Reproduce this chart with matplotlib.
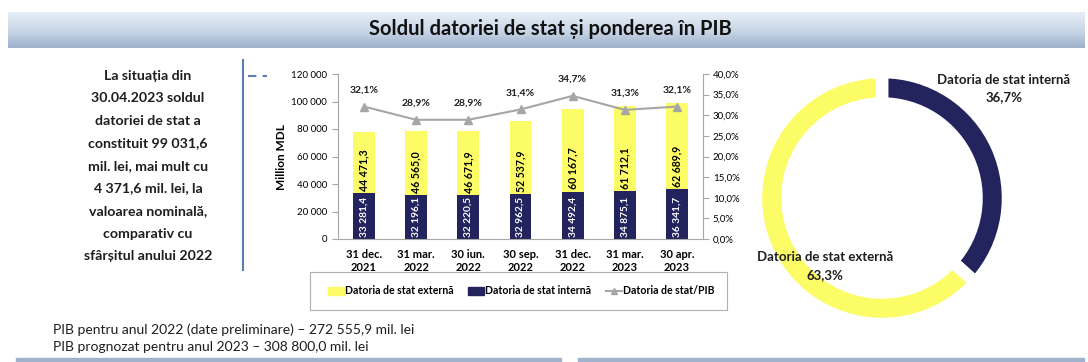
import numpy as np
import matplotlib.pyplot as plt
from matplotlib.patches import Rectangle, Patch
from matplotlib.lines import Line2D
from matplotlib.colors import LinearSegmentedColormap

plt.rcParams['font.family'] = ['Lato', 'DejaVu Sans']

# data
dates = ['31 dec.\n2021', '31 mar.\n2022', '30 iun.\n2022', '30 sep.\n2022',
         '31 dec.\n2022', '31 mar.\n2023', '30 apr.\n2023']
internal = [33281.4, 32196.1, 32220.5, 32962.5, 34492.4, 34875.1, 36341.7]
external = [44471.3, 46565.0, 46671.9, 52537.9, 60167.7, 61712.1, 62689.9]
debt_pib = [32.1, 28.9, 28.9, 31.4, 34.7, 31.3, 32.1]
share_labels = ['Datoria de stat internă', 'Datoria de stat externă']
share_values = [36.7, 63.3]

side_text = ['La situația din', '30.04.2023 soldul', 'datoriei de stat a',
             'constituit 99 031,6', 'mil. lei, mai mult cu', '4 371,6 mil. lei, la',
             'valoarea nominală,', 'comparativ cu', 'sfârșitul anului 2022']
foot_text = ['PIB pentru anul 2022 (date preliminare) – 272 555,9 mil. lei',
             'PIB prognozat pentru anul 2023 – 308 800,0 mil. lei']

YELLOW = '#fcfc66'
NAVY = '#23235e'
GRAY = '#a6a6a6'
TXT = '#1e1e1e'

W, H = 1088, 362
fig = plt.figure(figsize=(W / 100, H / 100), dpi=100)


def px(x, y):
    # pixel (top-left origin) -> figure fraction
    return x / W, 1 - y / H


def rect(x0, y0, x1, y1):
    return [x0 / W, 1 - y1 / H, (x1 - x0) / W, (y1 - y0) / H]


def fmt(v):
    return f'{v:,.1f}'.replace(',', ' ').replace('.', ',')


# title banner with gradient
bax = fig.add_axes(rect(8, 12, 1085, 48))
grad = np.linspace(0, 1, 100).reshape(-1, 1)
cm = LinearSegmentedColormap.from_list('b', ['#e6eef7', '#cbd8e8', '#9db1ca'])
bax.imshow(grad, aspect='auto', cmap=cm, extent=[0, 1, 0, 1], origin='upper')
bax.set_axis_off()
fig.text(*px(550, 29), 'Soldul datoriei de stat și ponderea în PIB',
         ha='center', va='center', fontsize=14.5, fontweight='bold', color='#111111')

# left paragraph
for i, line in enumerate(side_text):
    fig.text(*px(148, 76 + i * 22.5), line, ha='center', va='center',
             fontsize=10.2, fontweight='bold', color=TXT)

# vertical separator and dashes
fig.add_artist(Line2D([243 / W, 243 / W], [1 - 60 / H, 1 - 270 / H],
                      color='#5b7db1', lw=1.5))
fig.add_artist(Line2D([248 / W, 267 / W], [1 - 76 / H, 1 - 76 / H],
                      color='#5b7db1', lw=1.5, ls=(0, (4, 3))))

# bar chart
ax = fig.add_axes(rect(338, 74, 703, 239))
x = np.arange(len(dates))
bw = 0.42
ax.bar(x, internal, bw, color=NAVY, zorder=2)
ax.bar(x, external, bw, bottom=internal, color=YELLOW, zorder=2)
for i in range(len(x)):
    ax.annotate(fmt(internal[i]), (x[i], 0), xytext=(0, 1.5), textcoords='offset points',
                rotation=90, ha='center', va='bottom', fontsize=7.3,
                fontweight='bold', color='white')
    ax.annotate(fmt(external[i]), (x[i], internal[i]), xytext=(0, 1.5),
                textcoords='offset points', rotation=90, ha='center', va='bottom',
                fontsize=7.6, fontweight='bold', color='black')
ax.set_xlim(-0.5, len(x) - 0.5)
ax.set_ylim(0, 120000)
ax.set_yticks(np.arange(0, 120001, 20000))
ax.set_yticklabels([f'{v:,.0f}'.replace(',', ' ') for v in np.arange(0, 120001, 20000)])
ax.set_xticks(x)
ax.set_xticklabels(dates, fontsize=8, fontweight='bold', linespacing=1.25)
ax.tick_params(axis='x', length=0, pad=7)
ax.tick_params(axis='y', labelsize=7, length=4, color=GRAY, pad=4)
for s in ['top', 'right']:
    ax.spines[s].set_visible(False)
for s in ['left', 'bottom']:
    ax.spines[s].set_color(GRAY)
ax.set_ylabel('Million MDL', fontsize=8.5, fontweight='bold', labelpad=3)

ax2 = ax.twinx()
ax2.plot(x, debt_pib, color=GRAY, lw=1.5, marker='^', ms=6, zorder=3)
for i, v in enumerate(debt_pib):
    ax2.annotate(f'{v:.1f}%'.replace('.', ','), (x[i], v), xytext=(0, 12),
                 textcoords='offset points', ha='center', va='center',
                 fontsize=7.5, fontweight='bold', color=TXT)
ax2.set_ylim(0, 40)
ax2.set_yticks(np.arange(0, 41, 5))
ax2.set_yticklabels([f'{v:.1f}%'.replace('.', ',') for v in np.arange(0, 41, 5)])
ax2.tick_params(axis='y', labelsize=7, length=4, color=GRAY, pad=3)
for s in ['top', 'left', 'bottom']:
    ax2.spines[s].set_visible(False)
ax2.spines['right'].set_color(GRAY)

# legend box
fig.add_artist(Rectangle(px(310, 310), 417 / W, 38 / H, facecolor='white',
                         edgecolor='#b0b0b0', lw=0.8, transform=fig.transFigure))
handles = [Patch(color=YELLOW), Patch(color=NAVY),
           Line2D([], [], color=GRAY, marker='^', ms=5, lw=1.5)]
leg = fig.legend(handles, ['Datoria de stat externă', 'Datoria de stat internă',
                           'Datoria de stat/PIB'],
                 loc='center', bbox_to_anchor=px(521, 291), ncol=3,
                 fontsize=7.6, frameon=False, handlelength=1.5, handleheight=0.8,
                 handletextpad=0.1, columnspacing=1.4, borderaxespad=0)
for t in leg.get_texts():
    t.set_fontweight('bold')

# donut
cx, cy, r = 882, 198, 126
pax = fig.add_axes(rect(cx - r, cy - r, cx + r, cy + r))
pax.pie(share_values, colors=[NAVY, YELLOW], startangle=90, counterclock=False,
        radius=1, wedgeprops=dict(width=0.25, edgecolor='white', linewidth=9))
pax.set_xlim(-1, 1)
pax.set_ylim(-1, 1)
pax.set_aspect('equal')
pax.set_axis_off()

fig.text(*px(1004, 80), share_labels[0], ha='center', va='center',
         fontsize=9.5, fontweight='bold', color=TXT)
fig.text(*px(1004, 97), f'{share_values[0]:.1f}%'.replace('.', ','), ha='center',
         va='center', fontsize=9.5, fontweight='bold', color=TXT)
fig.text(*px(825, 257), share_labels[1], ha='center', va='center',
         fontsize=9.5, fontweight='bold', color=TXT)
fig.text(*px(825, 275), f'{share_values[1]:.1f}%'.replace('.', ','), ha='center',
         va='center', fontsize=9.5, fontweight='bold', color=TXT)

# footer
for i, line in enumerate(foot_text):
    fig.text(*px(53, 330 + i * 17), line, ha='left', va='center',
             fontsize=10, color=TXT)

fig.add_artist(Rectangle(px(16, 362), 545 / W, 4 / H, color='#9fb3cc',
                         transform=fig.transFigure))
fig.add_artist(Rectangle(px(578, 362), 506 / W, 4 / H, color='#9fb3cc',
                         transform=fig.transFigure))

fig.savefig('out.png', dpi=100)
